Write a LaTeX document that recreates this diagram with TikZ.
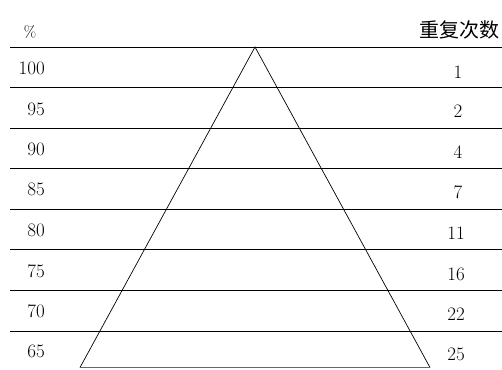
\documentclass[tikz,border=0pt]{standalone}
\usepackage{fontspec}
\newfontfamily\cjk{Noto Sans CJK SC}
\usetikzlibrary{positioning}

\begin{document}
\begin{tikzpicture}[x=1pt, y=-1pt, every node/.style={font=\fontsize{19}{21}\selectfont, inner sep=0pt}]
	\useasboundingbox (0,0) rectangle (502,369);
	% row lines
	\draw[line width=1pt] (10,47) -- (502,47);
	\draw[line width=1pt] (10,87.5) -- (502,87.5);
	\draw[line width=1pt] (10,128) -- (502,128);
	\draw[line width=1pt] (10,168.5) -- (502,168.5);
	\draw[line width=1pt] (10,209) -- (502,209);
	\draw[line width=1pt] (10,249.5) -- (502,249.5);
	\draw[line width=1pt] (10,290.5) -- (502,290.5);
	\draw[line width=1pt] (10,331) -- (502,331);
	% pyramid
	\coordinate (apex) at (255,47);
	\coordinate (baseL) at (80,367.5);
	\coordinate (baseR) at (430,367.5);
	\draw[line width=0.7pt] (baseL) -- (apex) -- (baseR);
	\draw[line width=0.5pt, black!60] (baseL) -- (baseR);
	% left column
	\node[font=\fontsize{16}{18}\selectfont] (pct) at (30,32) {\%};
	\node[anchor=east] (p100) at (45,68) {100};
	\node[anchor=east] (p95) at (45,109) {95};
	\node[anchor=east] (p90) at (45,149) {90};
	\node[anchor=east] (p85) at (45,189.5) {85};
	\node[anchor=east] (p80) at (45,230) {80};
	\node[anchor=east] (p75) at (45,271) {75};
	\node[anchor=east] (p70) at (45,311.5) {70};
	\node[anchor=east] (p65) at (45,351) {65};
	% right column
	\node[anchor=east, font=\cjk\fontsize{20}{22}\selectfont] (reps) at (500,30) {重复次数};
	\node (r1) at (458,72) {1};
	\node (r2) at (458,111) {2};
	\node (r4) at (458,152) {4};
	\node (r7) at (458,192) {7};
	\node (r11) at (456,233) {11};
	\node (r16) at (456,274) {16};
	\node (r22) at (456,314) {22};
	\node (r25) at (456,354) {25};
\end{tikzpicture}
\end{document}
